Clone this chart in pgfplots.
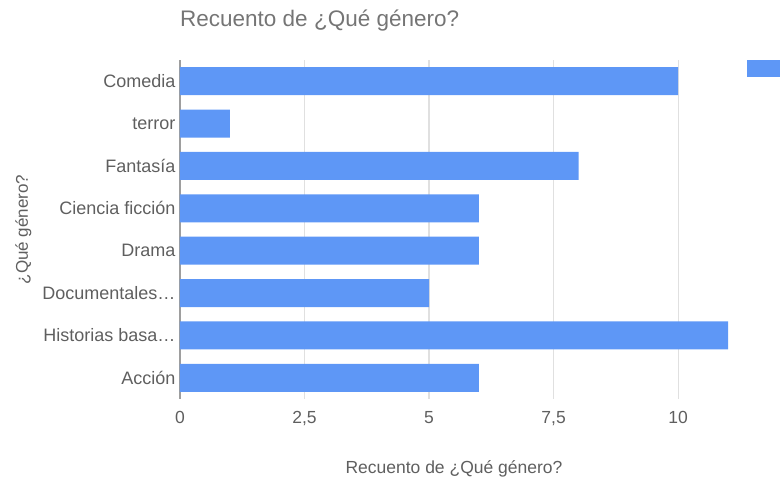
\documentclass[border=0pt]{standalone}
\usepackage{fontspec}
\setmainfont{Liberation Sans}
\usepackage{pgfplots}
\pgfplotsset{compat=1.18}
\definecolor{barblue}{HTML}{5E97F6}
\definecolor{titlegray}{HTML}{757575}
\definecolor{labgray}{HTML}{5F5F5F}
\definecolor{gridgray}{HTML}{E0E0E0}
\definecolor{basegray}{HTML}{9E9E9E}
\begin{document}
\begin{tikzpicture}
\begin{axis}[
  at={(180pt,79pt)}, anchor=south west,
  scale only axis, width=548pt, height=339pt,
  xbar, bar width=0.66,
  xmin=0, xmax=11, ymin=-0.5, ymax=7.5, y dir=reverse,
  ytick={0,1,2,3,4,5,6,7},
  yticklabels={Comedia,terror,Fantasía,Ciencia ficción,Drama,Documentales…,Historias basa…,Acción},
  xtick={2.5,5,7.5,10},
  extra x ticks={0},
  extra x tick style={grid style={draw=basegray, line width=1.2pt}},
  xmajorgrids, grid style={draw=gridgray, line width=1.2pt},
  axis line style={draw=none},
  major tick length=0pt,
  tick style={draw=none},
  /pgf/number format/use comma,
  /pgf/number format/assume math mode=true,
  ticklabel style={font=\fontsize{17.5}{20}\selectfont, text=labgray},
  yticklabel style={anchor=east, xshift=-1pt, font=\fontsize{18}{20}\selectfont},
  xticklabel style={anchor=north, yshift=-9pt},
  title={Recuento de ¿Qué género?},
  title style={at={(axis description cs:0,1.0797)}, anchor=base west, font=\fontsize{22.5}{26}\selectfont, text=titlegray, inner sep=0pt},
  xlabel={Recuento de ¿Qué género?},
  xlabel style={at={(axis description cs:0.5,-0.2183)}, anchor=base, font=\fontsize{17.5}{20}\selectfont, text=labgray, inner sep=0pt},
  ylabel={¿Qué género?},
  ylabel style={at={(axis description cs:-0.2774,0.5)}, anchor=base, rotate=0, font=\fontsize{17}{20}\selectfont, text=labgray, inner sep=0pt},
  legend style={at={(axis description cs:1.0347,1)}, anchor=north west, draw=none, fill=none, inner sep=0pt, font=\fontsize{17}{20}\selectfont, text=labgray},
  legend image code/.code={\fill[barblue] (0pt,-8.5pt) rectangle (40pt,8.5pt);},
]
\addplot[fill=barblue, draw=none] coordinates {
  (10,0) (1,1) (8,2) (6,3) (6,4) (5,5) (11,6) (6,7)
};
\addlegendentry{}
\end{axis}
\pgfresetboundingbox
\useasboundingbox (0,0) rectangle (780pt,478pt);
\end{tikzpicture}
\end{document}
